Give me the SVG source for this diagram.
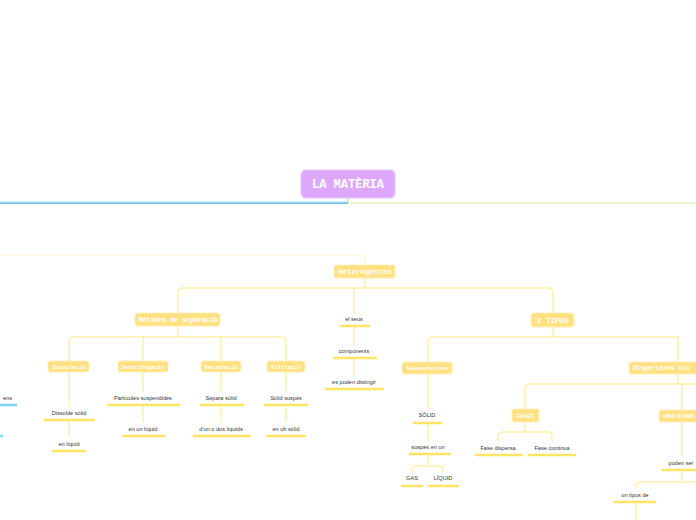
<svg xmlns="http://www.w3.org/2000/svg" width="696" height="520" viewBox="0 0 696 520">
<style>
.c{fill:none;stroke:#fff0a8;stroke-width:1.5}
.u{stroke:#ffe566;stroke-width:2.5;stroke-linecap:round}
.ub{stroke:#80d4f6;stroke-width:2.5}
.b{fill:#ffe182;stroke:#fff0b8;stroke-width:1}
.bt{font-family:"Liberation Mono",monospace;font-weight:bold;fill:#fff;text-anchor:middle}
.t{font-family:"Liberation Sans",Arial,sans-serif;font-size:5.6px;fill:#333;text-anchor:middle}
</style>
<rect width="696" height="520" fill="#fff"/>
<g id="connectors">
<path d="M348 198V203" stroke="#b8e8a8" stroke-width="1.5" fill="none"/>
<path d="M0 203H348" stroke="#6cc4ea" stroke-width="2" fill="none"/>
<path d="M0 202H348" stroke="#b8e4f6" stroke-width="1" fill="none"/>
<path d="M348 203H696" stroke="#e4f6c6" stroke-width="1.5" fill="none"/>
<path d="M0 255H360Q365 255 365 260V265" fill="none" stroke="#fff5c8" stroke-width="1.2"/>
<path class="c" d="M365 278V288M183 288H548Q553 288 553 293V313M178 313V293Q178 288 183 288M354 288V314"/>
<path class="c" d="M178 326V337M74 337H281Q286 337 286 342V361M69 361V342Q69 337 74 337M143 337V361M221 337V361"/>
<path class="c" d="M69 372V406M69 421V437M143 372V391M143 406V422M221 372V391M221 406V422M286 372V391M286 406V422"/>
<path class="c" d="M354 327V345M354 359V376"/>
<path class="c" d="M553 327V337M433 337H678V362M428 362V342Q428 337 433 337"/>
<path class="c" d="M428 374V408M428 424V441M428 455V466M416 466H439Q443 466 443 470V472M412 472V470Q412 466 416 466"/>
<path class="c" d="M678 374V384M530 384H696M525 409V389Q525 384 530 384M682 384V410"/>
<path class="c" d="M525 422V432M503 432H548Q552 432 552 436V441M498 441V436Q498 432 503 432"/>
<path class="c" d="M682 422V456M682 471V482M641 482H696M636 488V487Q636 482 641 482M636 503V520"/>
</g>
<g id="root">
<rect x="301" y="170" width="94" height="28" rx="5" fill="#dda8fc" stroke="#e8c4fd"/>
<text class="bt" x="348" y="188" font-size="12">LA MATÈRIA</text>
</g>
<g id="n-left">
<text class="t" x="12" y="400" style="text-anchor:end">ens</text>
<line class="ub" x1="0" y1="405" x2="17" y2="405"/>
<line class="ub" x1="0" y1="436" x2="3" y2="436"/>
</g>
<g id="heterogenies">
<rect class="b" x="334" y="265" width="61" height="13" rx="2.5"/>
<text class="bt" x="365" y="274" font-size="7.5">Heterogènies</text>
</g>
<g id="metodes">
<rect class="b" x="135" y="313" width="85" height="13" rx="2.5"/>
<text class="bt" x="178" y="322" font-size="6.6">Mètodes de separació</text>
</g>
<g id="dissolucio">
<rect class="b" x="48" y="361" width="41" height="11" rx="2.5"/>
<text class="bt" x="69" y="368.5" font-size="5.5">Dissolució</text>
</g>
<g id="sentrifugacio">
<rect class="b" x="118" y="361" width="50" height="11" rx="2.5"/>
<text class="bt" x="143" y="368.5" font-size="5.5">Sentrifugació</text>
</g>
<g id="decantacio">
<rect class="b" x="201" y="361" width="40" height="11" rx="2.5"/>
<text class="bt" x="221" y="368.5" font-size="5.5">Decantació</text>
</g>
<g id="filtracio">
<rect class="b" x="267" y="361" width="38" height="11" rx="2.5"/>
<text class="bt" x="286" y="368.5" font-size="5.5">Filtració</text>
</g>
<g id="t-dissolde"><text class="t" x="69" y="415">Dissolde sòlid</text><line class="u" x1="45" y1="420" x2="94" y2="420"/></g>
<g id="t-enliquid"><text class="t" x="69" y="446">en líquid</text><line class="u" x1="53" y1="451" x2="85" y2="451"/></g>
<g id="t-particules"><text class="t" x="143" y="400">Partícules suspendides</text><line class="u" x1="108" y1="405" x2="179" y2="405"/></g>
<g id="t-enunliquid"><text class="t" x="143" y="431">en un líquid</text><line class="u" x1="123" y1="436" x2="164" y2="436"/></g>
<g id="t-separa"><text class="t" x="221" y="400">Separa sòlid</text><line class="u" x1="201" y1="405" x2="243" y2="405"/></g>
<g id="t-dun"><text class="t" x="221" y="431">d'un o dos líquids</text><line class="u" x1="194" y1="436" x2="250" y2="436"/></g>
<g id="t-solid-suspes"><text class="t" x="286" y="400">Sòlid suspès</text><line class="u" x1="265" y1="405" x2="307" y2="405"/></g>
<g id="t-enuhsolid"><text class="t" x="286" y="431">en uh sòlid</text><line class="u" x1="267" y1="436" x2="305" y2="436"/></g>
<g id="t-elseus"><text class="t" x="354" y="321">el seus</text><line class="u" x1="341" y1="326" x2="369" y2="326"/></g>
<g id="t-components"><text class="t" x="354" y="353">components</text><line class="u" x1="334" y1="358" x2="376" y2="358"/></g>
<g id="t-espoden"><text class="t" x="354" y="384">es poden distingir</text><line class="u" x1="326" y1="389" x2="383" y2="389"/></g>
<g id="tipus">
<rect class="b" x="531" y="313" width="43" height="14" rx="2.5"/>
<text class="bt" x="552.5" y="322.5" font-size="7.5">2 TIPUS</text>
</g>
<g id="suspensions">
<rect class="b" x="402" y="362" width="50" height="12" rx="2.5"/>
<text class="bt" x="427" y="370" font-size="6.2">Suspensions</text>
</g>
<g id="dispersions">
<rect class="b" x="629" y="362" width="98" height="12" rx="2.5"/>
<text class="bt" x="633" y="370" font-size="6.3" style="text-anchor:start">Dispersions col·</text>
</g>
<g id="t-solid"><text class="t" x="427" y="417">SÒLID</text><line class="u" x1="414" y1="423" x2="441" y2="423"/></g>
<g id="t-suspes"><text class="t" x="428" y="449">suspès en un</text><line class="u" x1="410" y1="454" x2="450" y2="454"/></g>
<g id="t-gas"><text class="t" x="412" y="480">GAS</text><line class="u" x1="402" y1="486" x2="422" y2="486"/></g>
<g id="t-liquid"><text class="t" x="443" y="480">LÍQUID</text><line class="u" x1="429" y1="486" x2="458" y2="486"/></g>
<g id="fases">
<rect class="b" x="512" y="409" width="27" height="13" rx="2.5"/>
<text class="bt" x="525.5" y="417.5" font-size="6">FASES</text>
</g>
<g id="t-fasedispersa"><text class="t" x="498" y="450">Fase dispersa</text><line class="u" x1="476" y1="455" x2="522" y2="455"/></g>
<g id="t-fasecontinua"><text class="t" x="552" y="450">Fase continua</text><line class="u" x1="529" y1="455" x2="575" y2="455"/></g>
<g id="emulsions">
<rect class="b" x="659" y="410" width="46" height="12" rx="2.5"/>
<text class="bt" x="663" y="418" font-size="5.8" style="text-anchor:start">EMULSIONS</text>
</g>
<g id="t-podenser"><text class="t" x="681" y="465">poden ser</text><line class="u" x1="663" y1="470" x2="700" y2="470"/></g>
<g id="t-untipus"><text class="t" x="635" y="497">un tipus de</text><line class="u" x1="615" y1="502" x2="655" y2="502"/></g>
</svg>
